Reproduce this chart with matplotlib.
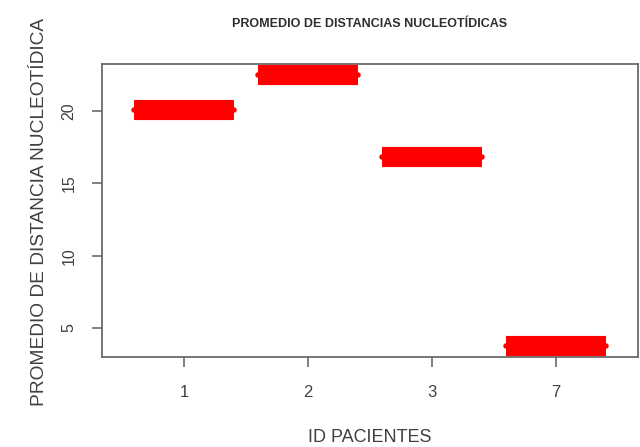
import matplotlib
matplotlib.use("Agg")
import matplotlib.pyplot as plt

# Patient IDs and their mean nucleotide distance
patients = ["1", "2", "3", "7"]
mean_distance = [20.1, 22.5, 16.8, 3.75]
y_ticks = [5, 10, 15, 20]

title = "PROMEDIO DE DISTANCIAS NUCLEOTÍDICAS"
x_label = "ID PACIENTES"
y_label = "PROMEDIO DE DISTANCIA NUCLEOTÍDICA"

plt.rcParams["font.family"] = ["Liberation Sans", "DejaVu Sans"]
text_col = "#404040"
axis_col = "#6a6a6a"

fig = plt.figure(figsize=(6.4, 4.47), dpi=100)
ax = fig.add_axes([102 / 640, 1 - 357 / 447, 536 / 640, 293 / 447])

pos = list(range(1, len(patients) + 1))
half = 0.4
for x, v in zip(pos, mean_distance):
    # thick median bar with butt ends, plus a thinner rounded core giving the end nubs
    ax.plot([x - half, x + half], [v, v], color="#ff0000", lw=14.5,
            solid_capstyle="butt", zorder=3)
    ax.plot([x - half, x + half], [v, v], color="#ff0000", lw=4,
            solid_capstyle="round", zorder=3)

n = len(patients)
ax.set_xlim(0.5 - 0.04 * n, n + 0.5 + 0.04 * n)
lo, hi = min(mean_distance), max(mean_distance)
pad = 0.04 * (hi - lo)
ax.set_ylim(lo - pad, hi + pad)

ax.set_xticks(pos)
ax.set_xticklabels(patients)
ax.set_yticks(y_ticks)
ax.set_yticklabels([str(t) for t in y_ticks], rotation=90, va="center")

for s in ax.spines.values():
    s.set_color(axis_col)
    s.set_linewidth(1.3)
ax.tick_params(axis="both", colors=axis_col, length=7.5, width=1.2,
               labelcolor=text_col)
ax.tick_params(axis="x", pad=13, labelsize=12)
ax.tick_params(axis="y", pad=11, labelsize=11.5)

fig.text(40 / 640, 1 - 212 / 447, y_label, rotation=90, ha="center", va="center",
         color=text_col, fontsize=13.8)
fig.text(370 / 640, 1 - 437 / 447, x_label, ha="center", va="center",
         color=text_col, fontsize=13)
fig.text(370 / 640, 1 - 24 / 447, title, ha="center", va="center",
         color="#2e2e2e", fontsize=9, fontweight="bold")

fig.savefig("out.png", dpi=100, facecolor="white")
